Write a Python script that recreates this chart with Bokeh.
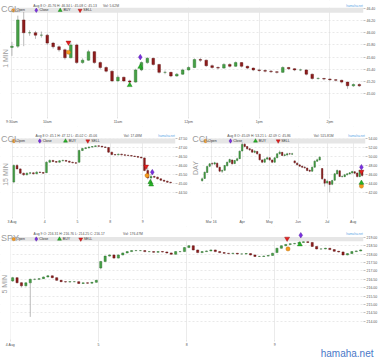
from math import pi
import numpy as np
from bokeh.plotting import figure
from bokeh.models import (FixedTicker, PrintfTickFormatter, Range1d, Title)
from bokeh.core.properties import value
from bokeh.layouts import column, row
from bokeh.embed import file_html
from bokeh.resources import INLINE

# ====================== DATA ======================
# Panel 1 - CCL, 1 MIN (bars sampled every 5 minutes from 9:30)
ccl1_open = [45.76, 45.78, 46.21, 46.00, 46.00, 45.96, 45.96, 45.83, 45.77, 45.72,
             45.59, 45.80, 45.51, 45.55, 45.69, 45.51, 45.43, 45.37, 45.21, 45.27,
             45.21, 45.19, 45.39, 45.51, 45.58, 45.48, 45.35, 45.35, 45.29, 45.32,
             45.39, 45.43, 45.56, 45.55, 45.46, 45.43, 45.42, 45.48, 45.45, 45.51,
             45.45, 45.42, 45.39, 45.38, 45.37, 45.36, 45.35, 45.43, 45.41, 45.39,
             45.39, 45.32, 45.25, 45.25, 45.24, 45.23, 45.22, 45.19, 45.13, 45.15]
ccl1_high = [45.85, 46.28, 46.34, 46.04, 46.03, 46.02, 45.98, 45.85, 45.79, 45.74,
             45.84, 45.82, 45.58, 45.72, 45.70, 45.53, 45.45, 45.38, 45.30, 45.28,
             45.23, 45.41, 45.53, 45.60, 45.59, 45.49, 45.38, 45.36, 45.34, 45.41,
             45.45, 45.58, 45.59, 45.56, 45.48, 45.45, 45.50, 45.50, 45.53, 45.52,
             45.46, 45.43, 45.41, 45.40, 45.39, 45.37, 45.45, 45.44, 45.42, 45.41,
             45.40, 45.33, 45.27, 45.26, 45.25, 45.24, 45.23, 45.20, 45.17, 45.17]
ccl1_low = [45.62, 45.75, 45.78, 45.95, 45.90, 45.92, 45.80, 45.74, 45.69, 45.56,
            45.58, 45.49, 45.49, 45.54, 45.49, 45.40, 45.35, 45.19, 45.20, 45.19,
            45.15, 45.18, 45.37, 45.49, 45.46, 45.33, 45.32, 45.27, 45.28, 45.31,
            45.38, 45.42, 45.52, 45.44, 45.41, 45.40, 45.41, 45.43, 45.44, 45.43,
            45.40, 45.37, 45.36, 45.35, 45.34, 45.33, 45.34, 45.39, 45.37, 45.37,
            45.30, 45.23, 45.23, 45.22, 45.21, 45.20, 45.17, 45.08, 45.11, 45.11]
ccl1_close = [45.78, 46.21, 46.00, 46.00, 45.96, 45.96, 45.83, 45.77, 45.72, 45.59,
              45.80, 45.51, 45.55, 45.69, 45.51, 45.43, 45.37, 45.21, 45.27, 45.21,
              45.19, 45.39, 45.51, 45.58, 45.48, 45.35, 45.35, 45.29, 45.32, 45.39,
              45.43, 45.56, 45.55, 45.46, 45.43, 45.42, 45.48, 45.45, 45.51, 45.45,
              45.42, 45.39, 45.38, 45.37, 45.36, 45.35, 45.43, 45.41, 45.39, 45.39,
              45.32, 45.25, 45.25, 45.24, 45.23, 45.22, 45.19, 45.13, 45.15, 45.13]
ccl1_xticks = [0, 6, 18, 30, 42, 54]
ccl1_xlabels = ["9:30am", "10am", "11am", "12pm", "1pm", "2pm"]
ccl1_yticks = [45.0, 45.2, 45.4, 45.6, 45.8, 46.0, 46.2, 46.4]
ccl1_sig = {"open": ([9.6], [45.68]), "close": ([21.8], [45.60]),
            "buy": ([20.0, 21.8], [45.14, 45.44]), "sell": ([9.6], [45.84])}
ccl1_info = ["CCL", "Aug 8 O: 45.76 H: 46.34 L: 45.08 C: 45.13", "Vol: 5.62M", "1 MIN"]

# Panel 2 - CCL, 15 MIN
ccl15_open = [45.10, 46.02, 45.83, 45.59, 45.50, 45.59, 45.61, 45.56, 45.65, 45.63,
              45.62, 46.20, 46.30, 46.24, 46.20, 46.28, 46.30, 46.26, 46.20, 46.17,
              46.20, 46.85, 46.96, 47.00, 47.04, 47.07, 47.11, 47.09, 47.05, 47.02,
              46.76, 46.63, 46.61, 46.65, 46.61, 46.59, 46.57, 46.54, 46.52, 46.48,
              46.44, 45.74, 45.33, 45.41, 45.37, 45.28, 45.20, 45.15, 45.09]
ccl15_high = [46.08, 46.10, 45.86, 45.62, 45.63, 45.66, 45.64, 45.70, 45.68, 45.66,
              46.25, 46.36, 46.33, 46.27, 46.32, 46.35, 46.32, 46.28, 46.23, 46.20,
              46.90, 47.00, 47.04, 47.08, 47.10, 47.12, 47.12, 47.11, 47.08, 47.04,
              46.78, 46.66, 46.68, 46.67, 46.63, 46.61, 46.59, 46.56, 46.54, 46.50,
              46.46, 45.90, 45.55, 45.45, 45.40, 45.30, 45.22, 45.17, 45.11]
ccl15_low = [45.05, 45.80, 45.55, 45.45, 45.48, 45.56, 45.52, 45.54, 45.60, 45.55,
             45.60, 46.17, 46.20, 46.16, 46.18, 46.25, 46.22, 46.17, 46.14, 46.12,
             46.18, 46.82, 46.93, 46.97, 47.01, 47.04, 47.06, 47.03, 47.00, 46.72,
             46.58, 46.57, 46.59, 46.58, 46.56, 46.54, 46.51, 46.49, 46.45, 46.41,
             45.70, 45.25, 45.02, 45.32, 45.25, 45.17, 45.12, 45.06, 45.03]
ccl15_close = [46.02, 45.83, 45.59, 45.50, 45.59, 45.61, 45.56, 45.65, 45.63, 45.59,
               46.20, 46.30, 46.24, 46.20, 46.28, 46.30, 46.26, 46.20, 46.17, 46.15,
               46.85, 46.96, 47.00, 47.04, 47.07, 47.11, 47.09, 47.05, 47.02, 46.76,
               46.63, 46.61, 46.65, 46.61, 46.59, 46.57, 46.54, 46.52, 46.48, 46.44,
               45.74, 45.33, 45.41, 45.37, 45.28, 45.20, 45.15, 45.09, 45.06]
ccl15_xticks = [-0.5, 9.5, 19.5, 29.5, 39.5]
ccl15_xlabels = ["3 Aug", "4", "5", "8", "9"]
ccl15_yticks = [44.5, 45.0, 45.5, 46.0, 46.5, 47.0, 47.5]
ccl15_sig = {"open": ([40.8], [45.46]), "close": ([42.4], [45.65]),
             "buy": ([41.8, 42.05], [45.09, 44.96]), "sell": ([40.5], [45.96])}
ccl15_info = ["CCL", "Aug 8 O: 45.1 H: 47.12 L: 45.02 C: 45.06", "Vol: 17.48M", "15 MIN"]

# Panel 3 - CCL, DAY
ccld_open = [44.70, 45.20, 46.50, 47.90, 48.50, 48.40, 48.60, 47.70, 46.80, 47.00,
             48.00, 48.80, 49.30, 48.50, 49.20, 49.60, 51.30, 52.80, 52.30, 51.80,
             51.60, 51.00, 51.20, 50.60, 49.30, 48.80, 49.50, 49.80, 49.30, 48.80,
             49.80, 50.70, 51.00, 50.30, 50.40, 50.70, 50.60, 49.10, 48.60, 48.20,
             47.90, 47.70, 47.50, 47.00, 46.80, 47.70, 49.00, 49.30, 47.40, 45.00,
             44.20, 44.50, 43.90, 44.80, 46.20, 46.90, 45.60, 45.60, 46.00, 46.20,
             46.40, 46.70, 46.40, 45.60, 46.90]
ccld_high = [45.40, 46.70, 48.00, 48.60, 48.80, 48.90, 48.70, 47.80, 47.20, 48.20,
             48.90, 49.60, 49.40, 49.30, 49.80, 51.40, 53.21, 53.00, 52.40, 52.00,
             51.70, 51.50, 51.30, 50.70, 49.50, 49.70, 50.00, 49.90, 49.40, 49.90,
             50.80, 51.40, 51.10, 50.70, 50.90, 50.90, 50.90, 49.20, 48.80, 48.40,
             48.10, 47.90, 47.60, 47.20, 47.80, 49.20, 49.60, 50.10, 47.50, 45.20,
             44.90, 44.60, 44.90, 46.40, 47.20, 47.00, 45.90, 46.20, 46.40, 46.60,
             46.90, 46.80, 46.50, 47.10, 47.00]
ccld_low = [44.50, 45.10, 46.40, 47.70, 48.10, 48.20, 47.60, 46.60, 46.40, 46.90,
            47.90, 48.70, 48.30, 48.40, 49.00, 49.50, 51.20, 52.10, 51.60, 51.30,
            50.90, 50.80, 50.50, 49.20, 48.60, 48.70, 49.30, 49.10, 48.60, 48.70,
            49.70, 50.50, 50.20, 50.10, 50.30, 50.40, 50.40, 48.50, 48.10, 47.80,
            47.50, 47.40, 46.80, 46.60, 46.70, 47.60, 48.90, 49.20, 44.90, 43.40,
            43.90, 42.09, 43.70, 44.70, 46.10, 45.50, 45.40, 45.50, 45.90, 46.10,
            46.30, 46.20, 45.40, 45.50, 45.60]
ccld_close = [45.11, 46.59, 47.85, 48.44, 48.44, 48.67, 47.70, 46.81, 46.96, 48.07,
              48.81, 49.41, 48.44, 49.19, 49.56, 51.26, 52.74, 52.30, 51.78, 51.56,
              51.04, 51.26, 50.67, 49.33, 48.81, 49.48, 49.78, 49.33, 48.81, 49.78,
              50.67, 51.04, 50.30, 50.44, 50.67, 50.67, 50.67, 48.67, 48.22, 47.93,
              47.70, 47.56, 46.96, 46.81, 47.70, 49.04, 49.33, 49.93, 45.11, 44.15,
              44.59, 43.85, 44.74, 46.22, 46.96, 45.63, 45.63, 46.00, 46.22, 46.44,
              46.74, 46.37, 45.63, 46.96, 45.85]
ccld_xticks = [3.6, 16, 26.9, 38.4, 50, 60.4]
ccld_xlabels = ["Mar 16", "Apr", "May", "Jun", "Jul", "Aug"]
ccld_yticks = [42, 44, 46, 48, 50, 52, 54]
ccld_sig = {"open": ([63.7], [43.50]), "close": ([63.7], [47.70]),
            "buy": ([63.7], [44.20]), "sell": ([63.7], [46.70])}
ccld_info = ["CCL", "Aug 8 O: 45.09 H: 53.21 L: 42.09 C: 45.86", "Vol: 515.81M", "DAY"]

# Panel 4 - SPY, 5 MIN
spy5_open = [216.40, 216.60, 216.30, 216.11, 216.29, 216.50, 216.50, 216.54, 216.64, 216.71,
             216.60, 216.44, 216.36, 216.34, 216.36, 216.36, 216.25, 216.29, 216.27, 216.32,
             217.18, 217.57, 217.89, 217.96, 217.77, 217.96, 218.08, 218.16, 218.22, 218.22,
             218.22, 218.16, 218.16, 218.12, 218.16, 218.14, 218.08, 218.00, 218.16, 218.16,
             218.40, 218.51, 218.26, 218.10, 218.16, 218.20, 218.26, 218.16, 218.10, 218.06,
             218.04, 218.06, 218.02, 218.02, 218.04, 217.96, 217.87, 217.87, 217.89, 217.93,
             218.10, 218.36, 218.51, 218.59, 218.63, 218.65, 218.71, 218.75, 218.71, 218.47,
             218.32, 218.32, 218.36, 218.28, 218.18, 218.14, 217.96, 218.04, 218.16, 218.20]
spy5_high = [216.65, 216.62, 216.33, 216.32, 216.54, 216.55, 216.58, 216.67, 216.76, 216.73,
             216.62, 216.46, 216.38, 216.39, 216.39, 216.38, 216.31, 216.31, 216.35, 216.47,
             217.60, 217.92, 217.99, 217.98, 217.99, 218.10, 218.18, 218.25, 218.26, 218.25,
             218.24, 218.19, 218.18, 218.19, 218.18, 218.16, 218.10, 218.19, 218.19, 218.44,
             218.55, 218.53, 218.28, 218.19, 218.23, 218.29, 218.28, 218.18, 218.12, 218.08,
             218.09, 218.08, 218.05, 218.07, 218.06, 217.98, 217.90, 217.92, 217.96, 218.09,
             218.39, 218.54, 218.62, 218.66, 218.68, 218.74, 218.78, 218.77, 218.73, 218.49,
             218.35, 218.39, 218.38, 218.30, 218.20, 218.16, 218.07, 218.19, 218.23, 218.29]
spy5_low = [216.35, 216.25, 216.02, 216.08, 214.25, 216.45, 216.47, 216.52, 216.62, 216.57,
            216.41, 216.33, 216.31, 216.32, 216.33, 216.22, 216.23, 216.24, 216.25, 216.30,
            217.10, 217.55, 217.86, 217.74, 217.75, 217.94, 218.06, 218.14, 218.19, 218.19,
            218.13, 218.13, 218.09, 218.10, 218.11, 218.05, 217.97, 217.98, 218.13, 218.14,
            218.38, 218.23, 218.07, 218.08, 218.14, 218.18, 218.13, 218.07, 218.03, 218.01,
            218.02, 217.99, 217.99, 218.00, 217.93, 217.84, 217.84, 217.85, 217.87, 217.91,
            218.08, 218.34, 218.49, 218.57, 218.60, 218.63, 218.69, 218.68, 218.44, 218.29,
            218.29, 218.30, 218.25, 218.15, 218.11, 217.93, 217.94, 218.02, 218.14, 218.18]
spy5_close = [216.60, 216.30, 216.11, 216.29, 216.50, 216.50, 216.54, 216.64, 216.71, 216.60,
              216.44, 216.36, 216.34, 216.36, 216.36, 216.25, 216.29, 216.27, 216.32, 216.44,
              217.57, 217.89, 217.96, 217.77, 217.96, 218.08, 218.16, 218.22, 218.22, 218.22,
              218.16, 218.16, 218.12, 218.16, 218.14, 218.08, 218.00, 218.16, 218.16, 218.40,
              218.51, 218.26, 218.10, 218.16, 218.20, 218.26, 218.16, 218.10, 218.06, 218.04,
              218.06, 218.02, 218.02, 218.04, 217.96, 217.87, 217.87, 217.89, 217.93, 218.06,
              218.36, 218.51, 218.59, 218.63, 218.65, 218.71, 218.75, 218.71, 218.47, 218.32,
              218.32, 218.36, 218.28, 218.18, 218.14, 217.96, 218.04, 218.16, 218.20, 218.26]
spy5_xticks = [-0.5, 19.5, 39.5, 59.5]
spy5_xlabels = ["4 Aug", "5", "8", "9"]
spy5_yticks = [214.0, 214.5, 215.0, 215.5, 216.0, 216.5, 217.0, 217.5, 218.0, 218.5, 219.0]
spy5_sig = {"open": ([62.5], [218.32]), "close": ([65.4], [219.14]),
            "buy": ([65.2], [218.59]), "sell": ([62.3], [218.94])}
spy5_info = ["SPY", "Aug 9 O: 216.31 H: 216.76 L: 214.25 C: 216.17", "Vol: 176.47M", "5 MIN"]

legend_labels = ["Open", "Close", "BUY", "SELL"]
site = "hamaha.net"

# ====================== STYLE ======================
FONT = "Liberation Sans"
UP, UP_LINE = "#46a046", "#276b27"
DN, DN_LINE = "#8e1c1c", "#5a0e0e"
WICK = "#8c8c8c"
GRAY = "#9c9c9c"
INFO = "#505050"
LINK = "#5aa6e6"
BAND = "#e6e6e6"
MK = {"open": ("circle", 4.2, "#f39a1e", "#b86a08"),
      "close": ("diamond", 5.6, "#7b2fe0", "#4d189a"),
      "buy": ("triangle", 5.0, "#27b427", "#137013"),
      "sell": ("inverted_triangle", 5.0, "#e52020", "#8a0d0d")}


def panel(w, h, br, bb, xr, yr, lay, xt, xl, yt, o, hi, lo, c, bw, sig, info):
    """lay: pixel layout of the panel (relative to its top-left corner)."""
    fw, fh = w - br, h - bb

    def X(px):
        return xr[0] + px / fw * (xr[1] - xr[0])

    def Y(py):
        return yr[1] - py / fh * (yr[1] - yr[0])

    p = figure(width=w, height=h, x_range=Range1d(*xr), y_range=Range1d(*yr),
               y_axis_location="right", output_backend="svg", toolbar_location=None,
               min_border_left=0, min_border_top=0, min_border_right=br,
               min_border_bottom=lay.get("min_bb", int(bb)))
    p.outline_line_color = None

    band_top = lay["band"]
    pl = lay["left"]
    # blank header strip and left strip (hide grid there), legend band
    p.quad(left=[X(0)], right=[xr[1]], top=[yr[1]], bottom=[Y(band_top)],
           fill_color="white", line_color=None)
    p.quad(left=[X(0)], right=[X(pl)], top=[yr[1]], bottom=[yr[0]],
           fill_color="white", line_color=None)
    p.quad(left=[X(pl)], right=[xr[1]], top=[Y(band_top)], bottom=[Y(band_top + lay["band_h"])],
           fill_color=BAND, line_color=None)

    o, hi, lo, c = map(np.array, (o, hi, lo, c))
    x = np.arange(len(c))
    p.segment(x, lo, x, hi, line_color=WICK, line_width=0.6)
    up = c >= o
    dn = ~up
    p.vbar(x=x[up], width=bw, top=c[up], bottom=o[up], fill_color=UP,
           line_color=UP_LINE, line_width=0.4)
    p.vbar(x=x[dn], width=bw, top=o[dn], bottom=c[dn], fill_color=DN,
           line_color=DN_LINE, line_width=0.4)

    for k in ("open", "close", "buy", "sell"):
        m, s, fc, lc = MK[k]
        p.scatter(*sig[k], marker=m, size=s, fill_color=fc, line_color=lc, line_width=0.4)

    # legend keys inside the band
    ky = band_top + lay["band_h"] / 2
    for (k, gx, tx), lab in zip(lay["keys"], legend_labels):
        m, s, fc, lc = MK[k]
        p.scatter([X(gx)], [Y(ky)], marker=m, size=s * 0.8, fill_color=fc,
                  line_color=lc, line_width=0.4)
        p.text(x=[X(tx)], y=[Y(ky)], text=[lab], text_font=value(FONT),
               text_font_size="3.5px", text_color="#333333", text_align="left",
               text_baseline="middle")

    def txt(s, px, py, size, color, align="left", base="alphabetic", angle=0.0):
        p.text(x=[X(px)], y=[Y(py)], text=[s], text_font=value(FONT),
               text_font_size=size, text_color=color, text_align=align,
               text_baseline=base, angle=angle)

    txt(info[1], lay["info"][0], lay["info"][1], "3.4px", INFO)
    txt(info[2], lay["vol"], lay["info"][1], "3.4px", INFO)
    txt(site, fw - 0.5, lay["site"], "3.2px", LINK, "right")
    txt(info[3], lay["side"][0], lay["side"][1], "7px", GRAY, "center", "middle", pi / 2)
    txt(info[0], lay["title"][0], lay["title"][1], "9px", GRAY)

    yax = p.yaxis[0]
    yax.ticker = FixedTicker(ticks=yt)
    yax.formatter = PrintfTickFormatter(format="%.2f")
    yax.major_label_text_font_size = "3.5px"
    yax.major_label_text_font = FONT
    yax.major_label_text_color = "#555555"
    yax.major_tick_out = 2
    yax.major_tick_in = 0
    yax.major_tick_line_color = "#999999"
    yax.major_tick_line_width = 0.6
    yax.minor_tick_line_color = None
    yax.axis_line_color = None
    yax.major_label_standoff = 1

    xax = p.xaxis[0]
    xax.ticker = FixedTicker(ticks=xt)
    xax.major_label_overrides = {t: lab for t, lab in zip(xt, xl)}
    xax.major_label_text_font_size = "3.5px"
    xax.major_label_text_font = FONT
    xax.major_label_text_color = "#555555"
    xax.major_tick_out = 2
    xax.major_tick_in = 0
    xax.major_tick_line_color = "#cccccc"
    xax.major_tick_line_width = 0.6
    xax.minor_tick_line_color = None
    xax.axis_line_color = None
    xax.major_label_standoff = 1

    p.xgrid.ticker = FixedTicker(ticks=xt)
    p.xgrid.grid_line_color = "#e2e2e2"
    p.xgrid.grid_line_width = 0.7
    p.ygrid.ticker = FixedTicker(ticks=yt)
    p.ygrid.grid_line_color = "#dadada"
    p.ygrid.grid_line_width = 0.6
    p.ygrid.grid_line_dash = "2 2"
    return p


p1 = panel(380, 126, 15, 8, (-1.943, 59.71), (44.626, 46.529),
           dict(band=7.5, band_h=5, left=10, title=(0.5, 8.6), info=(33, 5.3), vol=103,
                side=(5, 59), site=5.3,
                keys=[("open", 13, 16), ("close", 36, 39.3), ("buy", 60, 63.3), ("sell", 80, 83.3)]),
           ccl1_xticks, ccl1_xlabels, ccl1_yticks,
           ccl1_open, ccl1_high, ccl1_low, ccl1_close, 0.45, ccl1_sig, ccl1_info)

p2 = panel(190, 100, 15, 10, (-4.07, 49.5), (43.185, 48.185),
           dict(band=12, band_h=5, left=10, title=(0.5, 12.0), info=(35, 9.4), vol=123.3,
                side=(4.5, 48), site=9.0,
                keys=[("open", 13.3, 16), ("close", 39.3, 42.3), ("buy", 65, 68.3), ("sell", 87.3, 90.7)]),
           ccl15_xticks, ccl15_xlabels, ccl15_yticks,
           ccl15_open, ccl15_high, ccl15_low, ccl15_close, 0.55, ccl15_sig, ccl15_info)

p3 = panel(190, 100, 15, 10, (-4.667, 65.33), (36.74, 56.74),
           dict(band=12, band_h=5, left=10, title=(1.7, 12.0), info=(36.7, 9.4), vol=123.3,
                side=(5, 41.5), site=9.0,
                keys=[("open", 15, 17.7), ("close", 40, 42.7), ("buy", 65, 68.3), ("sell", 87.7, 90.7)]),
           ccld_xticks, ccld_xlabels, ccld_yticks,
           ccld_open, ccld_high, ccld_low, ccld_close, 0.6, ccld_sig, ccld_info)

p4 = panel(380, 132, 15, 16.5, (-2.757, 79.64), (212.896, 219.664),
           dict(band=10.7, band_h=4.3, left=10, title=(0.5, 12.0), info=(33.3, 7.3), vol=123.3,
                side=(4.5, 59), site=7.0, min_bb=0,
                keys=[("open", 13.3, 16), ("close", 36, 39), ("buy", 59.3, 62.7), ("sell", 80.7, 83.7)]),
           spy5_xticks, spy5_xlabels, spy5_yticks,
           spy5_open, spy5_high, spy5_low, spy5_close, 0.5, spy5_sig, spy5_info)

# large site watermark under the SPY panel
p4.add_layout(Title(text=site, align="right", vertical_align="top", text_font_size="10px",
                    text_font=FONT, text_font_style="normal", text_color="#4a78c8",
                    standoff=-4, offset=-10), "below")

layout = column(p1, row(p2, p3), p4)

with open("out.html", "w") as f:
    f.write(file_html(layout, INLINE))
